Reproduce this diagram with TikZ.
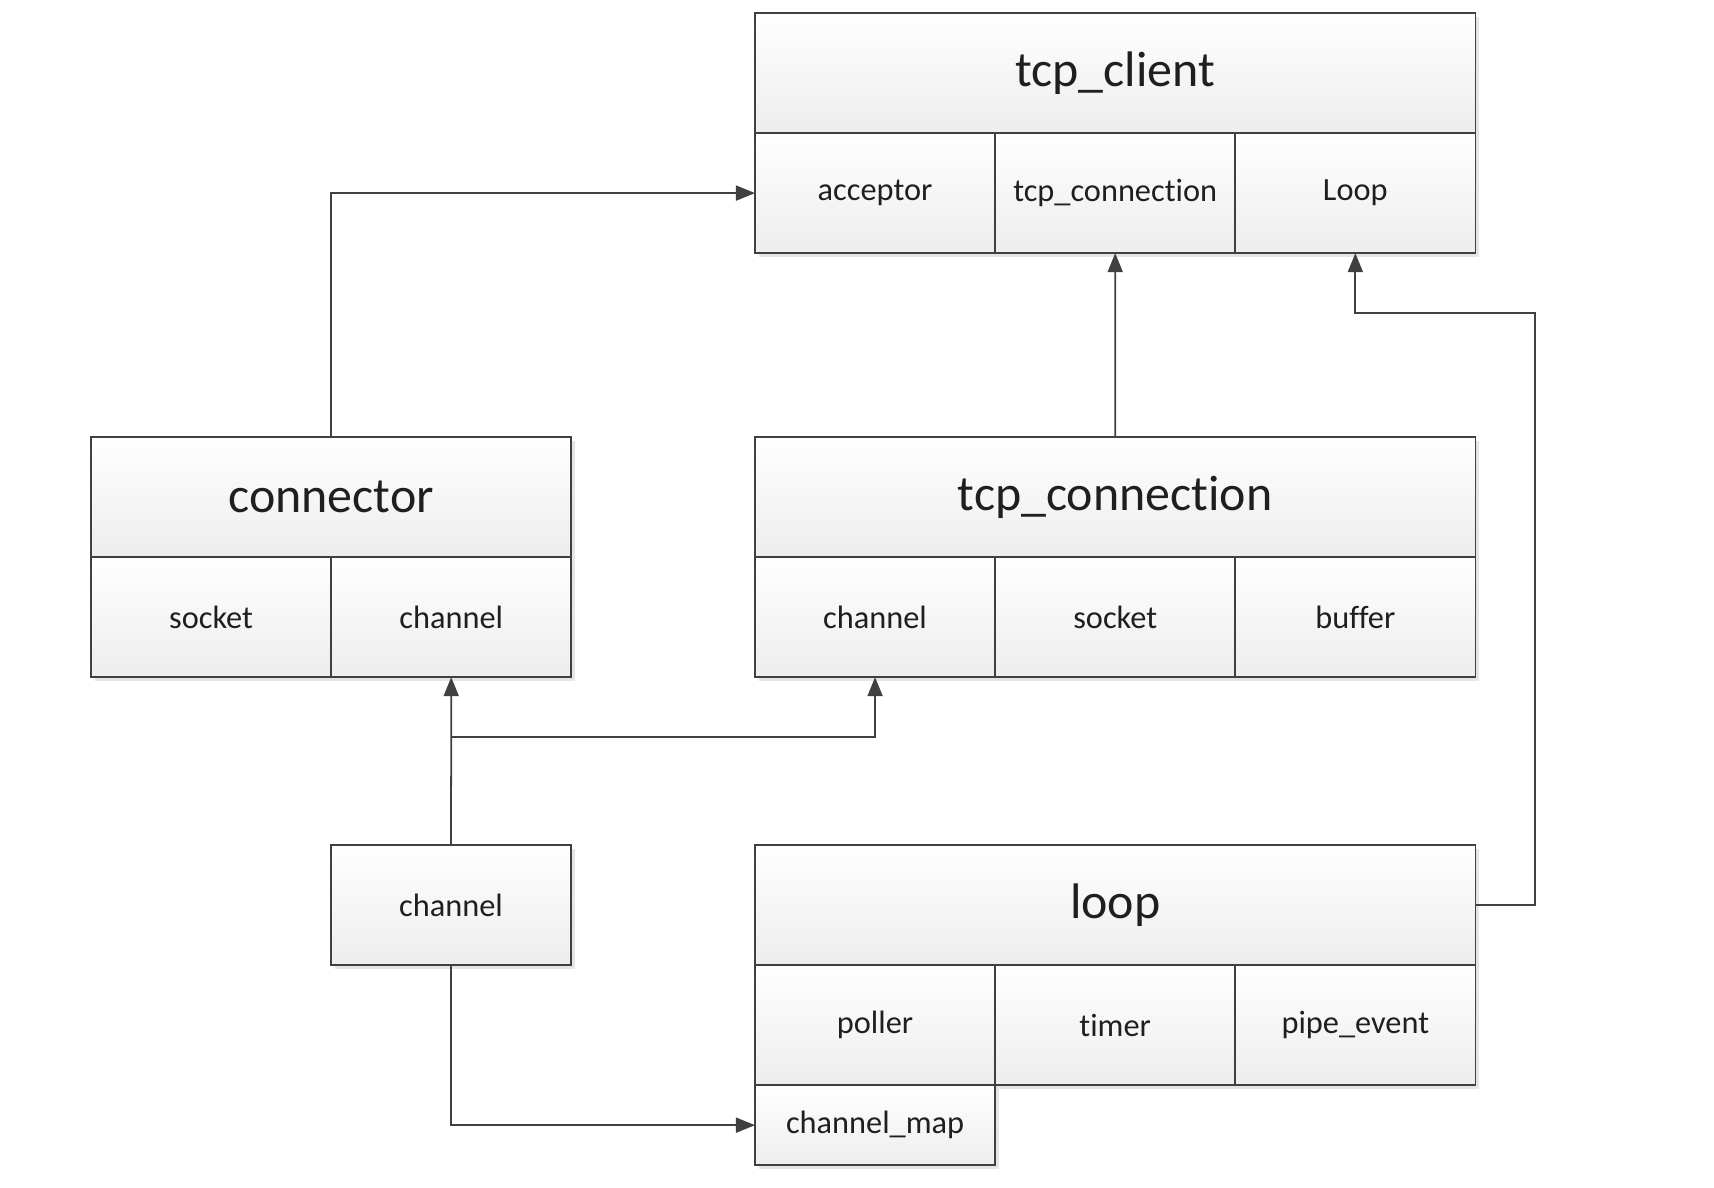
\documentclass[tikz,border=0pt]{standalone}
\usepackage{fontspec}
\setmainfont{Carlito}[RawFeature={-liga,-clig,-calt,-dlig}]
\usetikzlibrary{positioning,shadows,arrows.meta}
\definecolor{linegray}{HTML}{404040}
\tikzset{
  cellbox/.style={draw=linegray, line width=0.5pt, outer sep=0pt, inner sep=0pt,
    top color=white, bottom color=black!7, minimum width=2.4cm, minimum height=1.2cm,
    font=\fontsize{9.2}{11}\selectfont, text=black!88,
    drop shadow={shadow xshift=0.04cm, shadow yshift=-0.04cm, fill=black!10, opacity=1}},
  headbox/.style={cellbox, minimum width=7.2cm, font=\fontsize{14.2}{17}\selectfont},
  link/.style={draw=linegray, line width=0.5pt, -{Triangle[width=0.15cm,length=0.19cm]}}
}
\begin{document}
\begin{tikzpicture}[x=0.01cm,y=-0.01cm]
	\useasboundingbox (0,0) rectangle (1714,1188);
	% tcp_client
	\node[headbox, anchor=north west] (client) at (755,13) {tcp\_client};
	\node[cellbox, below right=0 of client.south west] (acc) {acceptor};
	\node[cellbox, right=0 of acc] (ctc) {tcp\_connection};
	\node[cellbox, right=0 of ctc] (cloop) {Loop};
	% connector
	\node[headbox, minimum width=4.8cm, anchor=north west] (conn) at (91,437) {connector};
	\node[cellbox, below right=0 of conn.south west] (csock) {socket};
	\node[cellbox, right=0 of csock] (cchan) {channel};
	% tcp_connection
	\node[headbox, anchor=north west] (tconn) at (755,437) {tcp\_connection};
	\node[cellbox, below right=0 of tconn.south west] (tchan) {channel};
	\node[cellbox, right=0 of tchan] (tsock) {socket};
	\node[cellbox, right=0 of tsock] (tbuf) {buffer};
	% channel
	\node[cellbox, anchor=north west] (ch) at (331,845) {channel};
	% loop
	\node[headbox, anchor=north west] (loop) at (755,845) {loop};
	\node[cellbox, below right=0 of loop.south west] (poll) {poller};
	\node[cellbox, right=0 of poll] (timer) {timer};
	\node[cellbox, right=0 of timer] (pipe) {pipe\_event};
	\node[cellbox, minimum height=0.8cm, below=0 of poll] (cmap) {channel\_map};
	% links
	\coordinate (bend) at (1535,313);
	\coordinate (split) at (451,737);
	\draw[link] (conn.north) |- (acc.west);
	\draw[link] (tconn.north) -- (ctc.south);
	\draw[link] (loop.east) -| (bend) -| (cloop.south);
	\draw[link] (ch.north) -- (cchan.south);
	\draw[link] (split) -| (tchan.south);
	\draw[link] (ch.south) |- (cmap.west);
\end{tikzpicture}
\end{document}
